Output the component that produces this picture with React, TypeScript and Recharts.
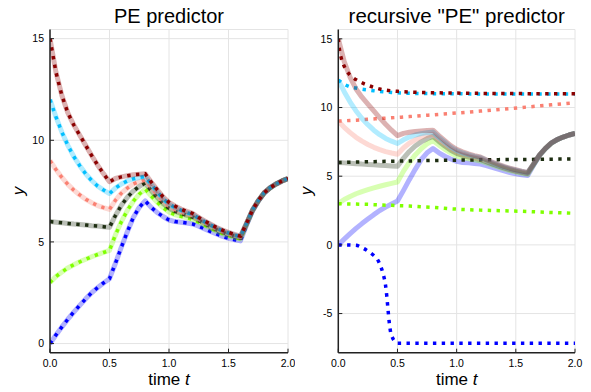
import React from "react";
import { LineChart, Line, XAxis, YAxis, CartesianGrid } from "recharts";

if (typeof document !== "undefined") {
  document.body.style.margin = "0";
}

// ---------- data ----------
const timeGrid = [
  0, 0.05, 0.1, 0.15, 0.2, 0.25, 0.3, 0.35, 0.4, 0.45, 0.5,
  0.55, 0.6, 0.65, 0.7, 0.75, 0.8,
  0.85, 0.9, 0.95, 1.0, 1.05, 1.1, 1.15, 1.2, 1.25, 1.3, 1.35, 1.4, 1.45, 1.5, 1.55, 1.6,
  1.65, 1.7, 1.75, 1.8, 1.85, 1.9, 1.95, 2.0,
];

// true solutions (translucent solid lines)
const trueBlue = [
  0, 0.42, 0.82, 1.2, 1.55, 1.88, 2.2, 2.5, 2.75, 2.98, 3.19,
  3.95, 4.75, 5.5, 6.2, 6.7, 7.02,
  6.7, 6.45, 6.25, 6.08, 6.0, 5.97, 5.93, 5.88, 5.77, 5.64, 5.51, 5.39, 5.27, 5.18, 5.11, 5.05,
  5.8, 6.5, 7.0, 7.4, 7.66, 7.85, 8.0, 8.12,
];
const trueGreen = [
  3, 3.3, 3.52, 3.72, 3.88, 4.02, 4.15, 4.27, 4.38, 4.48, 4.58,
  5.35, 6.0, 6.55, 7.0, 7.35, 7.6,
  7.26, 6.96, 6.69, 6.47, 6.34, 6.26, 6.19, 6.11, 5.97, 5.82, 5.67, 5.53, 5.41, 5.31, 5.22, 5.15,
  5.84, 6.52, 7.01, 7.41, 7.66, 7.85, 8.0, 8.12,
];
const trueDark = [
  6, 5.97, 5.94, 5.91, 5.88, 5.86, 5.83, 5.8, 5.78, 5.75, 5.72,
  6.3, 6.8, 7.2, 7.5, 7.73, 7.9,
  7.53, 7.2, 6.89, 6.66, 6.51, 6.4, 6.31, 6.22, 6.06, 5.9, 5.75, 5.6, 5.48, 5.37, 5.28, 5.2,
  5.86, 6.53, 7.02, 7.41, 7.66, 7.85, 8.0, 8.12,
];
const trueSalmon = [
  9, 8.56, 8.17, 7.83, 7.55, 7.31, 7.1, 6.93, 6.79, 6.69, 6.6,
  7.05, 7.4, 7.65, 7.85, 7.97, 8.05,
  7.68, 7.33, 7.01, 6.76, 6.6, 6.48, 6.38, 6.29, 6.11, 5.95, 5.79, 5.64, 5.51, 5.4, 5.31, 5.23,
  5.88, 6.54, 7.02, 7.42, 7.67, 7.85, 8.0, 8.12,
];
const trueCyan = [
  12, 11.15, 10.4, 9.75, 9.2, 8.75, 8.35, 8.02, 7.75, 7.55, 7.38,
  7.65, 7.85, 8.0, 8.1, 8.17, 8.21,
  7.83, 7.47, 7.12, 6.86, 6.69, 6.56, 6.44, 6.35, 6.16, 5.99, 5.83, 5.68, 5.55, 5.44, 5.34, 5.26,
  5.89, 6.55, 7.03, 7.42, 7.67, 7.85, 8.0, 8.12,
];
const trueRed = [
  15, 13.35, 12.2, 11.35, 10.75, 10.25, 9.75, 9.25, 8.78, 8.35, 7.96,
  8.12, 8.2, 8.26, 8.3, 8.33, 8.35,
  7.95, 7.58, 7.22, 6.95, 6.77, 6.62, 6.5, 6.4, 6.2, 6.03, 5.87, 5.71, 5.58, 5.47, 5.37, 5.28,
  5.9, 6.55, 7.03, 7.42, 7.67, 7.85, 8.0, 8.12,
];

// PE predictor (left, dotted) – coincides with the true solutions
const peBlue = trueBlue;
const peGreen = trueGreen;
const peDark = trueDark;
const peSalmon = trueSalmon;
const peCyan = trueCyan;
const peRed = trueRed;

// recursive "PE" predictor (right, dotted)
const recTime = [
  0, 0.01, 0.025, 0.05, 0.1, 0.15, 0.2, 0.25, 0.3, 0.35, 0.4, 0.45, 0.5,
  0.6, 0.7, 0.8, 1.0, 1.2, 1.4, 1.6, 1.8, 2.0,
];
const recRed = [
  15, 14.2, 13.6, 13.0, 12.35, 12.03, 11.8, 11.62, 11.47, 11.35, 11.27, 11.22, 11.18,
  11.13, 11.1, 11.08, 11.05, 11.03, 11.02, 11.01, 11.0, 11.0,
];
const recCyan = [
  12, 11.93, 11.83, 11.7, 11.5, 11.42, 11.34, 11.28, 11.22, 11.17, 11.13, 11.1, 11.07,
  11.04, 11.02, 11.01, 11.0, 10.99, 10.99, 10.98, 10.98, 10.98,
];
const recSalmon = [
  9.0, 9.01, 9.01, 9.03, 9.06, 9.08, 9.11, 9.14, 9.17, 9.2, 9.22, 9.25, 9.28,
  9.34, 9.41, 9.47, 9.6, 9.74, 9.89, 10.04, 10.2, 10.35,
];
const recDark = [
  6.0, 6.0, 6.0, 6.01, 6.02, 6.03, 6.04, 6.05, 6.06, 6.07, 6.08, 6.09, 6.1,
  6.11, 6.13, 6.14, 6.17, 6.19, 6.21, 6.22, 6.24, 6.25,
];
const recGreen = [
  3.0, 3.0, 3.0, 2.99, 2.98, 2.97, 2.96, 2.95, 2.93, 2.91, 2.89, 2.88, 2.86,
  2.83, 2.78, 2.73, 2.6, 2.53, 2.48, 2.43, 2.36, 2.3,
];
const recBlueTime = [
  0, 0.05, 0.1, 0.15, 0.2, 0.25, 0.3, 0.33, 0.36, 0.38, 0.4, 0.41, 0.42, 0.43, 0.44,
  0.46, 0.48, 0.5, 0.75, 1.0, 1.5, 2.0,
];
const recBlue = [
  0, 0, -0.01, -0.03, -0.2, -0.45, -0.78, -1.05, -1.6, -2.15, -3.0, -3.75, -4.7, -5.6, -6.25,
  -6.8, -7.05, -7.17, -7.17, -7.17, -7.17, -7.17,
];

const xTicks = [0, 0.5, 1, 1.5, 2];
const yTicksLeft = [0, 5, 10, 15];
const yTicksRight = [-5, 0, 5, 10, 15];

// ---------- styling ----------
const COL = {
  blue: "#0000FF",
  green: "#7FFF00",
  dark: "#1E2E12",
  salmon: "#FA8072",
  cyan: "#00BFFF",
  red: "#8B0000",
};
const FONT = "Liberation Sans, Arial, sans-serif";

const pts = (xs: number[], ys: number[]) => xs.map((x, i) => ({ x, y: ys[i] }));

type S = { key: string; color: string; solid: number[]; dotted: { x: number; y: number }[]; smooth: boolean };

const leftSeries: S[] = [
  { key: "blue", color: COL.blue, solid: trueBlue, dotted: pts(timeGrid, peBlue), smooth: false },
  { key: "green", color: COL.green, solid: trueGreen, dotted: pts(timeGrid, peGreen), smooth: false },
  { key: "dark", color: COL.dark, solid: trueDark, dotted: pts(timeGrid, peDark), smooth: false },
  { key: "salmon", color: COL.salmon, solid: trueSalmon, dotted: pts(timeGrid, peSalmon), smooth: false },
  { key: "cyan", color: COL.cyan, solid: trueCyan, dotted: pts(timeGrid, peCyan), smooth: false },
  { key: "red", color: COL.red, solid: trueRed, dotted: pts(timeGrid, peRed), smooth: false },
];
const rightSeries: S[] = [
  { key: "blue", color: COL.blue, solid: trueBlue, dotted: pts(recBlueTime, recBlue), smooth: true },
  { key: "green", color: COL.green, solid: trueGreen, dotted: pts(recTime, recGreen), smooth: true },
  { key: "dark", color: COL.dark, solid: trueDark, dotted: pts(recTime, recDark), smooth: true },
  { key: "salmon", color: COL.salmon, solid: trueSalmon, dotted: pts(recTime, recSalmon), smooth: true },
  { key: "cyan", color: COL.cyan, solid: trueCyan, dotted: pts(recTime, recCyan), smooth: true },
  { key: "red", color: COL.red, solid: trueRed, dotted: pts(recTime, recRed), smooth: true },
];

function renderLines(series: S[]) {
  const out: React.ReactElement[] = [];
  series.forEach((s) => {
    out.push(
      <Line
        key={s.key + "-solid"}
        data={pts(timeGrid, s.solid)}
        dataKey="y"
        type="linear"
        stroke={s.color}
        strokeOpacity={0.3}
        strokeWidth={5}
        strokeLinejoin="round"
        dot={false}
        activeDot={false}
        isAnimationActive={false}
      />
    );
    out.push(
      <Line
        key={s.key + "-dot"}
        data={s.dotted}
        dataKey="y"
        type={s.smooth ? "monotone" : "linear"}
        stroke={s.color}
        strokeWidth={3.5}
        strokeDasharray="3.4 5.4"
        strokeLinecap="butt"
        dot={false}
        activeDot={false}
        isAnimationActive={false}
      />
    );
  });
  return out;
}

const tickStyle = { fontSize: 10.5, fill: "#000", fontFamily: FONT };

function Panel(props: {
  width: number;
  margin: { top: number; right: number; bottom: number; left: number };
  domain: [number, number];
  yTicks: number[];
  series: S[];
}) {
  return (
    <LineChart width={props.width} height={392} margin={props.margin}>
      <CartesianGrid stroke="#e4e4e4" strokeWidth={1} />
      <XAxis
        dataKey="x"
        type="number"
        domain={[0, 2]}
        ticks={xTicks}
        allowDataOverflow
        height={30}
        tickFormatter={(v: number) => v.toFixed(1)}
        tick={tickStyle}
        tickSize={-4}
        tickMargin={10.8}
        axisLine={{ stroke: "#222", strokeWidth: 1.5 }}
        tickLine={{ stroke: "#222" }}
      />
      <YAxis
        type="number"
        domain={props.domain}
        ticks={props.yTicks}
        allowDataOverflow
        width={30}
        tick={tickStyle}
        tickSize={-4}
        tickMargin={10}
        axisLine={{ stroke: "#222", strokeWidth: 1.5 }}
        tickLine={{ stroke: "#222" }}
      />
      {renderLines(props.series)}
    </LineChart>
  );
}

export default function App() {
  return (
    <div style={{ position: "relative", width: 591, height: 392, background: "#fff", overflow: "hidden" }}>
      <div style={{ position: "absolute", left: 0, top: 0 }}>
        <Panel
          width={295}
          margin={{ top: 29.5, right: 7, bottom: 9.3, left: 20 }}
          domain={[-0.45, 15.45]}
          yTicks={yTicksLeft}
          series={leftSeries}
        />
      </div>
      <div style={{ position: "absolute", left: 295, top: 0 }}>
        <Panel
          width={296}
          margin={{ top: 29.5, right: 16, bottom: 9.3, left: 13.3 }}
          domain={[-7.85, 15.68]}
          yTicks={yTicksRight}
          series={rightSeries}
        />
      </div>
      <svg
        width={591}
        height={392}
        style={{ position: "absolute", left: 0, top: 0, pointerEvents: "none" }}
        fontFamily={FONT}
      >
        <text x={169} y={22.5} textAnchor="middle" fontSize={20} fill="#000">
          PE predictor
        </text>
        <text x={456.7} y={22.5} textAnchor="middle" fontSize={20.5} fill="#000">
          recursive "PE" predictor
        </text>
        <text x={169} y={385} textAnchor="middle" fontSize={17} fill="#000">
          time <tspan fontStyle="italic">t</tspan>
        </text>
        <text x={456.7} y={385} textAnchor="middle" fontSize={17} fill="#000">
          time <tspan fontStyle="italic">t</tspan>
        </text>
        <text transform="translate(24,191) rotate(-90)" textAnchor="middle" fontSize={17} fontStyle="italic" fill="#000">
          y
        </text>
        <text transform="translate(312,191) rotate(-90)" textAnchor="middle" fontSize={17} fontStyle="italic" fill="#000">
          y
        </text>
      </svg>
    </div>
  );
}
